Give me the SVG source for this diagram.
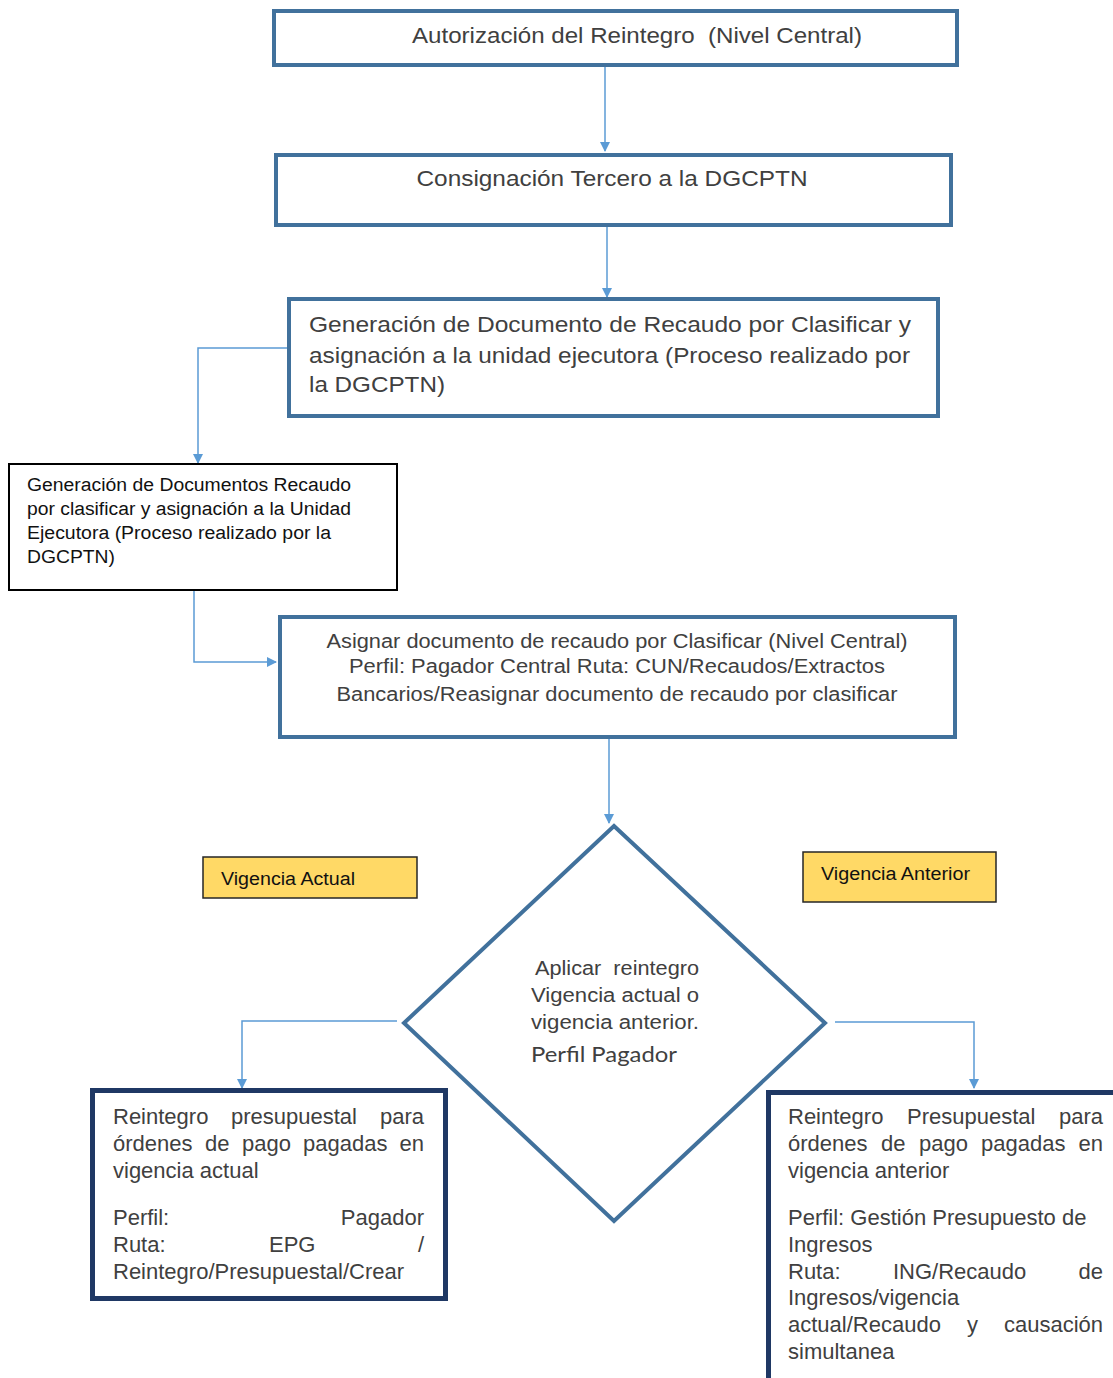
<svg xmlns="http://www.w3.org/2000/svg" width="1113" height="1378" viewBox="0 0 1113 1378">
<style>
.box{fill:#fff;stroke:#41719C;stroke-width:4}
.nbox{fill:#fff;stroke:#1F3864;stroke-width:5}
.kbox{fill:#fff;stroke:#000;stroke-width:2}
.ybox{fill:#FFD966;stroke:#262626;stroke-width:1.5}
.t{font-family:"Liberation Sans Narrow","Liberation Sans",Arial,sans-serif;fill:#404040}
.tk{font-family:"Liberation Sans Narrow","Liberation Sans",Arial,sans-serif;fill:#111}
.tb{font-family:"Liberation Sans",Arial,sans-serif;fill:#404040;font-size:22px}
.c{fill:none;stroke:#5B9BD5;stroke-width:1.5}
</style>
<defs>
<marker id="ah" viewBox="0 0 10 10" refX="9" refY="5" markerWidth="10" markerHeight="10" markerUnits="userSpaceOnUse" orient="auto">
<path d="M0,0 L10,5 L0,10 z" fill="#5B9BD5"/>
</marker>
</defs>
<g id="connectors">
<path class="c" d="M605,66 V151" marker-end="url(#ah)"/>
<path class="c" d="M607,227 V297" marker-end="url(#ah)"/>
<path class="c" d="M288,348 H198 V463" marker-end="url(#ah)"/>
<path class="c" d="M194,590 V662 H276" marker-end="url(#ah)"/>
<path class="c" d="M609,739 V823" marker-end="url(#ah)"/>
<path class="c" d="M397,1021 H242 V1088" marker-end="url(#ah)"/>
<path class="c" d="M835,1022 H974 V1088" marker-end="url(#ah)"/>
</g>
<g id="n1">
<rect class="box" x="274" y="11" width="683" height="54"/>
<text class="t" xml:space="preserve" x="637" y="43" font-size="22" text-anchor="middle" textLength="450" lengthAdjust="spacingAndGlyphs">Autorización del Reintegro  (Nivel Central)</text>
</g>
<g id="n2">
<rect class="box" x="276" y="155" width="675" height="70"/>
<text class="t" x="612" y="186" font-size="22" text-anchor="middle" textLength="391" lengthAdjust="spacingAndGlyphs">Consignación Tercero a la DGCPTN</text>
</g>
<g id="n3">
<rect class="box" x="289" y="299" width="649" height="117"/>
<text class="t" x="309" y="332" font-size="22" textLength="602" lengthAdjust="spacingAndGlyphs">Generación de Documento de Recaudo por Clasificar y</text>
<text class="t" x="309" y="363" font-size="22" textLength="601" lengthAdjust="spacingAndGlyphs">asignación a la unidad ejecutora (Proceso realizado por</text>
<text class="t" x="309" y="392" font-size="22" textLength="136" lengthAdjust="spacingAndGlyphs">la DGCPTN)</text>
</g>
<g id="n4">
<rect class="kbox" x="9" y="464" width="388" height="126"/>
<text class="tk" x="27" y="491" font-size="18" textLength="324" lengthAdjust="spacingAndGlyphs">Generación de Documentos Recaudo</text>
<text class="tk" x="27" y="515" font-size="18" textLength="324" lengthAdjust="spacingAndGlyphs">por clasificar y asignación a la Unidad</text>
<text class="tk" x="27" y="539" font-size="18" textLength="304" lengthAdjust="spacingAndGlyphs">Ejecutora (Proceso realizado por la</text>
<text class="tk" x="27" y="563" font-size="18" textLength="88" lengthAdjust="spacingAndGlyphs">DGCPTN)</text>
</g>
<g id="n5">
<rect class="box" x="280" y="617" width="675" height="120"/>
<text class="t" x="617" y="648" font-size="20" text-anchor="middle" textLength="581" lengthAdjust="spacingAndGlyphs">Asignar documento de recaudo por Clasificar (Nivel Central)</text>
<text class="t" x="617" y="673" font-size="20" text-anchor="middle" textLength="536" lengthAdjust="spacingAndGlyphs">Perfil: Pagador Central Ruta: CUN/Recaudos/Extractos</text>
<text class="t" x="617" y="701" font-size="20" text-anchor="middle" textLength="561" lengthAdjust="spacingAndGlyphs">Bancarios/Reasignar documento de recaudo por clasificar</text>
</g>
<g id="n6">
<polygon class="box" points="614,826 825,1023 614,1221 404,1023"/>
<text class="t" xml:space="preserve" x="535" y="975" font-size="20" textLength="164" lengthAdjust="spacingAndGlyphs">Aplicar  reintegro</text>
<text class="t" x="531" y="1002" font-size="20" textLength="168" lengthAdjust="spacingAndGlyphs">Vigencia actual o</text>
<text class="t" x="531" y="1029" font-size="20" textLength="168" lengthAdjust="spacingAndGlyphs">vigencia anterior.</text>
<text x="531" y="1062" font-family="Lato,'Open Sans',sans-serif" font-size="22" fill="#404040" textLength="146" lengthAdjust="spacingAndGlyphs">Perfil Pagador</text>
</g>
<g id="n7">
<rect class="ybox" x="203" y="857" width="214" height="41"/>
<text class="tk" x="221" y="885" font-size="18" textLength="134" lengthAdjust="spacingAndGlyphs">Vigencia Actual</text>
</g>
<g id="n8">
<rect class="ybox" x="803" y="852" width="193" height="50"/>
<text class="tk" x="821" y="880" font-size="18" textLength="149" lengthAdjust="spacingAndGlyphs">Vigencia Anterior</text>
</g>
<g id="n9">
<rect class="nbox" x="92.5" y="1090.5" width="353" height="208"/>
<text class="tb" y="1124"><tspan x="113">Reintegro</tspan><tspan x="231">presupuestal</tspan><tspan x="424" text-anchor="end">para</tspan></text>
<text class="tb" y="1151"><tspan x="113">órdenes</tspan><tspan x="205">de</tspan><tspan x="242">pago</tspan><tspan x="303">pagadas</tspan><tspan x="424" text-anchor="end">en</tspan></text>
<text class="tb" x="113" y="1178">vigencia actual</text>
<text class="tb" y="1225"><tspan x="113">Perfil:</tspan><tspan x="424" text-anchor="end">Pagador</tspan></text>
<text class="tb" y="1252"><tspan x="113">Ruta:</tspan><tspan x="269">EPG</tspan><tspan x="424" text-anchor="end">/</tspan></text>
<text class="tb" x="113" y="1279">Reintegro/Presupuestal/Crear</text>
</g>
<g id="n10">
<rect class="nbox" x="768.5" y="1092.5" width="360" height="300"/>
<text class="tb" y="1124"><tspan x="788">Reintegro</tspan><tspan x="907">Presupuestal</tspan><tspan x="1103" text-anchor="end">para</tspan></text>
<text class="tb" y="1151"><tspan x="788">órdenes</tspan><tspan x="881">de</tspan><tspan x="919">pago</tspan><tspan x="981">pagadas</tspan><tspan x="1103" text-anchor="end">en</tspan></text>
<text class="tb" x="788" y="1178">vigencia anterior</text>
<text class="tb" x="788" y="1225">Perfil: Gestión Presupuesto de</text>
<text class="tb" x="788" y="1252">Ingresos</text>
<text class="tb" y="1279"><tspan x="788">Ruta:</tspan><tspan x="893">ING/Recaudo</tspan><tspan x="1103" text-anchor="end">de</tspan></text>
<text class="tb" x="788" y="1305">Ingresos/vigencia</text>
<text class="tb" y="1332"><tspan x="788">actual/Recaudo</tspan><tspan x="967">y</tspan><tspan x="1103" text-anchor="end">causación</tspan></text>
<text class="tb" x="788" y="1359">simultanea</text>
</g>
</svg>
